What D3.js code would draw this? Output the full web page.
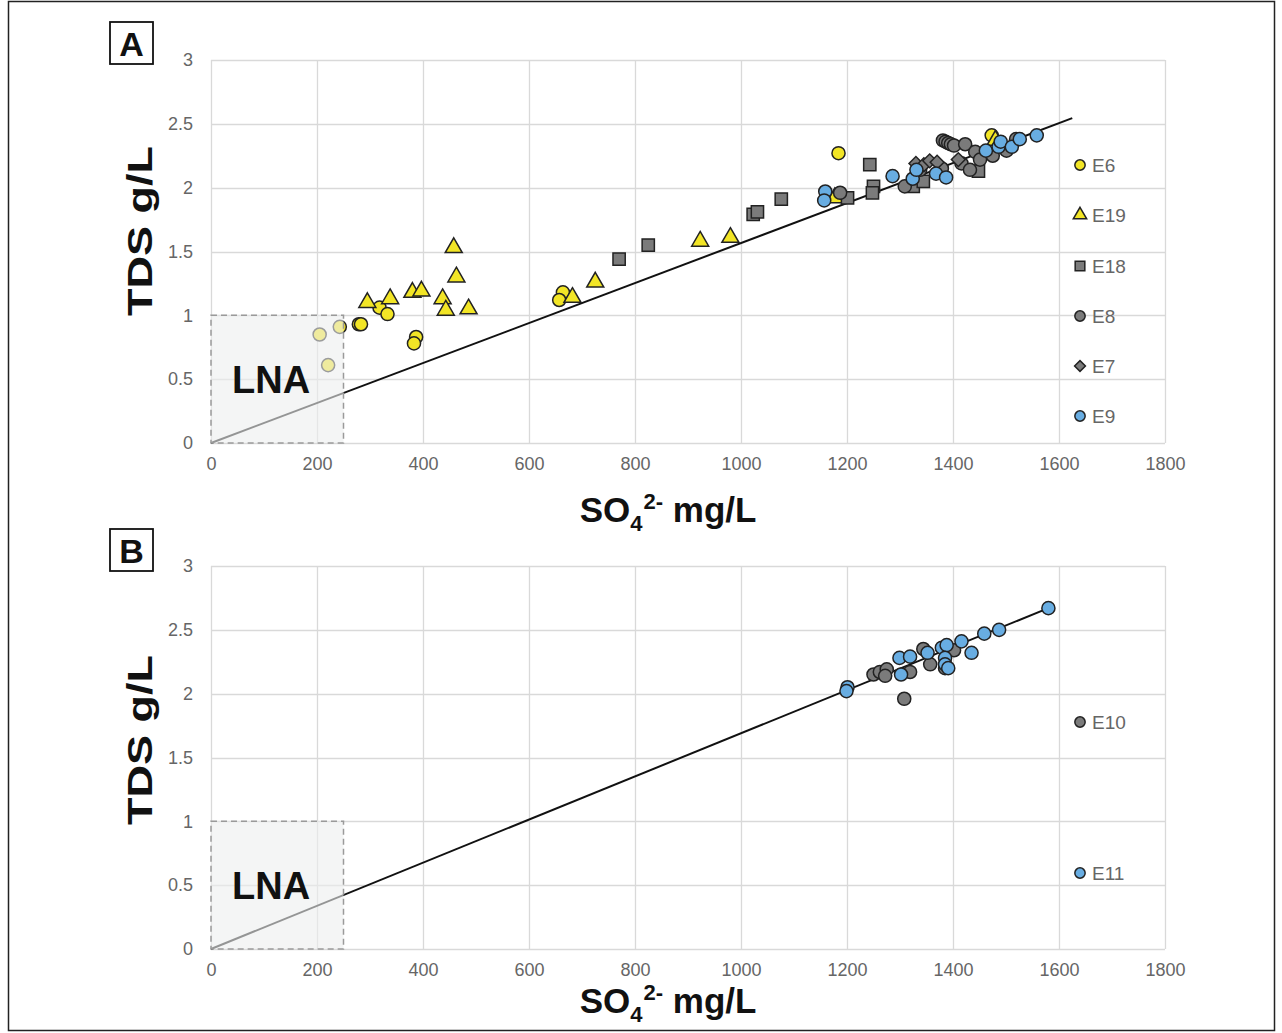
<!DOCTYPE html>
<html>
<head>
  <meta charset="utf-8">
  <title>TDS vs SO4</title>
  <style>
    body { margin: 0; background: #fff; }
    svg text { font-family: "Liberation Sans", Arial, sans-serif; }
  </style>
</head>
<body>
<script src="https://d3js.org/d3.v7.min.js"></script>
<svg id="fig" width="1282" height="1033"></svg>

<script>
    // ---- data (SO4 mg/L, TDS g/L) ----
    var xTicks = [0, 200, 400, 600, 800, 1000, 1200, 1400, 1600, 1800];
    var yTicks = [0, 0.5, 1, 1.5, 2, 2.5, 3];

    var e6 = [[205,0.85],[243,0.91],[221,0.61],[279,0.93],[283,0.93],[318,1.06],[333,1.01],
              [387,0.83],[383,0.78],[664,1.18],[657,1.12],[1184,2.27],[1473,2.41]];
    var e19 = [[458,1.53],[463,1.30],[295,1.10],[338,1.13],[380,1.18],[397,1.19],[437,1.13],
               [443,1.04],[486,1.05],[682,1.14],[725,1.26],[923,1.58],[980,1.61],[1177,1.92],[1480,2.37]];
    var e18 = [[770,1.44],[825,1.55],[1023,1.79],[1031,1.81],[1076,1.91],[1201,1.92],[1243,2.18],
               [1250,2.01],[1248,1.96],[1325,2.01],[1344,2.05],[1448,2.13]];
    var e8 = [[1187,1.96],[1309,2.01],[1338,2.14],[1379,2.15],[1381,2.37],[1386,2.36],[1391,2.35],
              [1396,2.34],[1402,2.33],[1423,2.34],[1416,2.19],[1432,2.14],[1442,2.28],[1451,2.22],
              [1475,2.25],[1501,2.29],[1519,2.38]];
    var e7 = [[1330,2.19],[1345,2.18],[1356,2.21],[1370,2.20],[1410,2.22]];
    var e9 = [[1159,1.97],[1157,1.90],[1286,2.09],[1324,2.07],[1331,2.14],[1368,2.11],[1387,2.08],
              [1462,2.29],[1486,2.32],[1490,2.36],[1511,2.32],[1526,2.38],[1558,2.41]];

    var e10 = [[1250,2.15],[1262,2.17],[1275,2.19],[1272,2.14],[1319,2.17],[1308,1.96],[1344,2.35],
               [1357,2.23],[1402,2.34],[1385,2.20]];
    var e11 = [[1201,2.05],[1199,2.02],[1299,2.28],[1319,2.29],[1302,2.15],[1352,2.32],[1379,2.36],
               [1388,2.38],[1385,2.28],[1385,2.23],[1391,2.20],[1416,2.41],[1435,2.32],[1459,2.47],
               [1487,2.50],[1580,2.67]];

    // fitted lines through the origin: [x end, y end]
    var fitA = [[0,0],[1625,2.545]];
    var fitB = [[0,0],[1580,2.67]];

    var lna = [250, 1];   // LNA box: SO4 < 250, TDS < 1

    var yellow = "#f2e526", grey = "#7b7b7b", blue = "#68ade2";

    var panelA = {
        letter: "A", top: 60, bottom: 443, fit: fitA,
        series: [
            {name: "E6", data: e6, shape: "circle", color: yellow, ly: 165},
            {name: "E19", data: e19, shape: "triangle", color: yellow, ly: 215},
            {name: "E18", data: e18, shape: "square", color: grey, ly: 266},
            {name: "E8", data: e8, shape: "circle", color: grey, ly: 316},
            {name: "E7", data: e7, shape: "diamond", color: grey, ly: 366},
            {name: "E9", data: e9, shape: "circle", color: blue, ly: 416}
        ],
        labelBox: 22, xLabelY: 522, yLabelY: 231
    };
    var panelB = {
        letter: "B", top: 566, bottom: 949, fit: fitB,
        series: [
            {name: "E10", data: e10, shape: "circle", color: grey, ly: 722},
            {name: "E11", data: e11, shape: "circle", color: blue, ly: 873}
        ],
        labelBox: 529, xLabelY: 1013, yLabelY: 740
    };

    var svg = d3.select("#fig");
    var left = 211, right = 1165;

    // outer frame
    svg.append("rect")
        .attr("x", 8.5).attr("y", 1.5)
        .attr("width", 1266).attr("height", 1029)
        .attr("fill", "none").attr("stroke", "#222").attr("stroke-width", 1.5);

    var x = d3.scaleLinear().domain([0, 1800]).range([left, right]);

    function symbolPath(shape, big) {
        var t = {circle: d3.symbolCircle, triangle: d3.symbolTriangle, square: d3.symbolSquare, diamond: d3.symbolSquare}[shape];
        var size = {circle: 135, triangle: 125, square: 150, diamond: 95}[shape];
        if (!big) size = size * 0.62;
        return d3.symbol().type(t).size(size)();
    }

    makePanel(panelA);
    makePanel(panelB);

    function makePanel(p) {
        var y = d3.scaleLinear().domain([0, 3]).range([p.bottom, p.top]);
        var g = svg.append("g");

        // grid
        g.append("g").selectAll("line").data(yTicks).enter().append("line")
            .attr("x1", left).attr("x2", right)
            .attr("y1", function(d) { return Math.round(y(d)) + 0.5; })
            .attr("y2", function(d) { return Math.round(y(d)) + 0.5; })
            .attr("stroke", "#d9d9d9").attr("stroke-width", 1.3);
        g.append("g").selectAll("line").data(xTicks).enter().append("line")
            .attr("y1", p.top).attr("y2", p.bottom)
            .attr("x1", function(d) { return Math.round(x(d)) + 0.5; })
            .attr("x2", function(d) { return Math.round(x(d)) + 0.5; })
            .attr("stroke", "#d9d9d9").attr("stroke-width", 1.3);

        // axes (labels only)
        var ya = g.append("g").attr("transform", "translate(" + left + ",0)")
            .call(d3.axisLeft(y).tickValues(yTicks).tickSize(0).tickPadding(18).tickFormat(d3.format("")));
        var xa = g.append("g").attr("transform", "translate(0," + p.bottom + ")")
            .call(d3.axisBottom(x).tickValues(xTicks).tickSize(0).tickPadding(14).tickFormat(d3.format("d")));
        [ya, xa].forEach(function(a) {
            a.select(".domain").remove();
            a.selectAll("text").attr("fill", "#666").attr("font-size", "18px")
                .style("font-family", "Liberation Sans, Arial, sans-serif");
        });

        // fit line
        var line = d3.line().x(function(d) { return x(d[0]); }).y(function(d) { return y(d[1]); });
        g.append("path").datum(p.fit).attr("d", line)
            .attr("fill", "none").attr("stroke", "#111").attr("stroke-width", 2);

        // points
        p.series.forEach(function(s) {
            g.append("g").selectAll("path").data(s.data).enter().append("path")
                .attr("d", symbolPath(s.shape, true))
                .attr("transform", function(d) {
                    return "translate(" + x(d[0]) + "," + y(d[1]) + ")" + (s.shape === "diamond" ? " rotate(45)" : "");
                })
                .attr("fill", s.color).attr("stroke", "#222").attr("stroke-width", 1.5);
        });

        // LNA box (drawn over the points, semi transparent)
        g.append("rect")
            .attr("x", x(0)).attr("y", y(lna[1]))
            .attr("width", x(lna[0]) - x(0)).attr("height", y(0) - y(lna[1]))
            .attr("fill", "#eceeee").attr("fill-opacity", 0.6)
            .attr("stroke", "#9a9a9a").attr("stroke-width", 1.5).attr("stroke-dasharray", "6,4");
        g.append("text").attr("x", 232).attr("y", p.bottom - 50)
            .attr("font-size", "38px").attr("font-weight", "bold").attr("fill", "#111")
            .text("LNA");

        // legend
        var lg = g.append("g").selectAll("g").data(p.series).enter().append("g")
            .attr("transform", function(s) { return "translate(1080," + s.ly + ")"; });
        lg.append("path")
            .attr("d", function(s) { return symbolPath(s.shape, false); })
            .attr("transform", function(s) { return s.shape === "diamond" ? "rotate(45)" : null; })
            .attr("fill", function(s) { return s.color; })
            .attr("stroke", "#222").attr("stroke-width", 1.5);
        lg.append("text").attr("x", 12).attr("dy", "0.35em")
            .attr("font-size", "19px").attr("fill", "#666")
            .text(function(s) { return s.name; });

        // panel letter
        g.append("rect").attr("x", 110).attr("y", p.labelBox).attr("width", 43).attr("height", 42)
            .attr("fill", "none").attr("stroke", "#111").attr("stroke-width", 1.8);
        g.append("text").attr("x", 131.5).attr("y", p.labelBox + 34)
            .attr("text-anchor", "middle").attr("font-size", "34px").attr("font-weight", "bold")
            .attr("fill", "#111").text(p.letter);

        // axis titles
        g.append("text")
            .attr("transform", "translate(152," + p.yLabelY + ") rotate(-90)")
            .attr("text-anchor", "middle").attr("font-size", "35px").attr("font-weight", "bold")
            .attr("textLength", 170).attr("lengthAdjust", "spacingAndGlyphs")
            .attr("fill", "#111").text("TDS g/L");

        var xt = g.append("text").attr("x", 668).attr("y", p.xLabelY)
            .attr("text-anchor", "middle").attr("font-size", "35px").attr("font-weight", "bold")
            .attr("fill", "#111");
        xt.append("tspan").text("SO");
        xt.append("tspan").attr("font-size", "22px").attr("dy", 9).text("4");
        xt.append("tspan").attr("font-size", "22px").attr("dy", -22).attr("dx", 1).text("2-");
        xt.append("tspan").attr("dy", 13).text(" mg/L");
    }
</script>
</body>
</html>
